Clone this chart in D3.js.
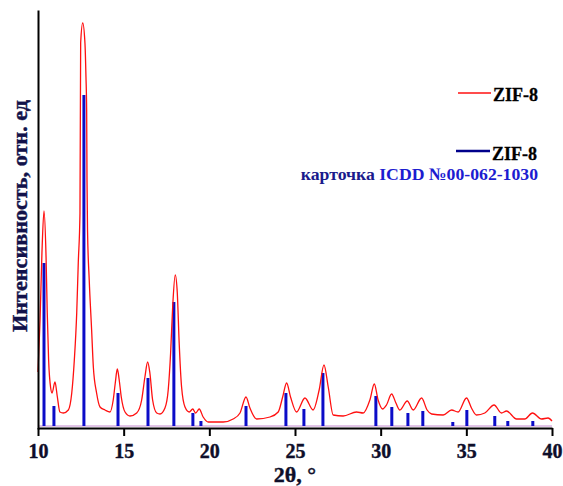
<!DOCTYPE html>
<html>
<head>
<meta charset="utf-8">
<script src="https://cdn.jsdelivr.net/npm/d3@7"></script>
<style>
  html, body { margin: 0; padding: 0; background: #fff; }
  svg { display: block; }
  text { font-family: "Liberation Serif", "Times New Roman", serif; font-weight: bold; }
</style>
</head>
<body>
<svg id="chart" width="563" height="486"></svg>
<script>
// ---- Data ----
// Measured XRD pattern of ZIF-8 (2θ in degrees, intensity in relative units)
const measuredTheta = [10.00,10.12,10.23,10.35,10.47,10.54,10.62,10.74,10.82,10.99,11.13,11.28,11.48,11.77,11.97,12.12,12.26,12.35,12.45,12.49,12.61,12.74,12.80,12.84,12.86,12.89,12.99,13.13,13.23,13.42,13.62,13.91,14.20,14.39,14.51,14.63,14.74,14.86,15.08,15.37,15.76,16.05,16.24,16.40,16.53,16.69,16.93,17.12,17.41,17.60,17.74,17.86,18.01,18.13,18.24,18.38,18.58,18.83,19.03,19.20,19.41,19.64,19.94,20.33,20.81,21.39,21.79,22.14,22.37,22.76,23.54,24.02,24.28,24.51,24.74,25.09,25.58,26.06,26.41,26.69,26.94,27.23,27.81,28.59,28.98,29.37,29.63,29.85,30.11,30.34,30.64,30.89,31.12,31.55,31.90,32.39,32.71,32.97,33.65,34.14,34.52,35.01,35.30,35.59,36.08,36.62,37.05,37.35,37.93,38.41,38.86,39.39,39.77,40.00];
const measuredIntensity = [54,106,173,215,169,113,66,38,33,44,29,14,13,16,33,66,113,163,213,383,403,383,349,316,246,196,146,96,59,33,19,16,14,26,43,57,46,29,14,10,13,26,49,64,53,26,13,12,18,36,73,119,151,133,83,39,19,14,17,13,17,9,4,4,4,7,13,29,18,7,9,14,29,43,29,14,28,16,36,61,39,11,10,14,13,26,42,26,17,21,32,23,16,25,16,28,16,12,11,16,14,28,18,11,13,21,13,15,7,7,13,7,8,5];

// Reference card ICDD №00-062-1030 (stick pattern)
const cardTheta = [10.35,10.93,12.68,14.67,16.42,17.93,19.04,19.51,22.14,24.47,25.52,26.63,29.72,30.65,31.59,32.46,34.21,35.03,36.66,37.42,38.88];
const cardIntensity = [163,20,331,33,48,124,13,5,20,33,17,53,30,19,13,15,4,16,10,5,5];

const xTicks = [10, 15, 20, 25, 30, 35, 40];
const xDomain = [10, 40];
const yDomain = [0, 416];

const xTitle = "2θ, °";
const yTitle = "Интенсивность, отн. ед";
const legendMeasured = "ZIF-8";
const legendCard = "ZIF-8";
const legendCardLine2a = "карточка ";
const legendCardLine2b = "ICDD №00-062-1030";

// ---- Drawing ----
(function () {
const svg = d3.select("#chart");
const mLeft = 38, mRight = 552, mTop = 10, base = 426, axisY = 428;

const x = d3.scaleLinear().domain(xDomain).range([mLeft, mRight]);
const y = d3.scaleLinear().domain(yDomain).range([base, mTop]);

// stick baseline (thin purple)
svg.append("line")
  .attr("x1", x(10)).attr("x2", x(40))
  .attr("y1", y(0)).attr("y2", y(0))
  .attr("stroke", "#c58ad0").attr("stroke-width", 1);

// sticks
svg.append("g").selectAll("line")
  .data(cardTheta.map((t, i) => ({ t, v: cardIntensity[i] })))
  .join("line")
  .attr("x1", d => x(d.t)).attr("x2", d => x(d.t))
  .attr("y1", y(0)).attr("y2", d => y(d.v))
  .attr("stroke", "#0c0cc8").attr("stroke-width", 3);

// measured curve
const pts = measuredTheta.map((t, i) => [t, measuredIntensity[i]]);
svg.append("path")
  .datum(pts)
  .attr("fill", "none")
  .attr("stroke", "#ff1010")
  .attr("stroke-width", 1.3)
  .attr("d", d3.line().x(d => x(d[0])).y(d => y(d[1])).curve(d3.curveMonotoneX));

// x axis
const xAxis = d3.axisBottom(x).tickValues(xTicks).tickFormat(d3.format("d"))
  .tickSize(8).tickSizeOuter(0).tickPadding(8);
const gx = svg.append("g").attr("transform", `translate(0,${axisY})`).call(xAxis);
gx.select(".domain").attr("stroke", "#000").attr("stroke-width", 2);
gx.selectAll(".tick line").attr("stroke", "#000").attr("stroke-width", 2);
gx.selectAll(".tick text")
  .attr("fill", "#0e0e2a")
  .attr("stroke", "#0e0e2a").attr("stroke-width", 0.4)
  .style("font-family", '"Liberation Serif", serif')
  .style("font-weight", "bold")
  .style("font-size", "20px");

// y axis (line only)
const yAxisScale = d3.scaleLinear().domain([0, 1]).range([axisY + 1, mTop]);
const gy = svg.append("g").attr("transform", `translate(${mLeft},0)`)
  .call(d3.axisLeft(yAxisScale).tickValues([]).tickSizeOuter(0));
gy.select(".domain").attr("stroke", "#000").attr("stroke-width", 2);

// axis titles
svg.append("text")
  .attr("x", 295).attr("y", 482)
  .attr("text-anchor", "middle")
  .attr("fill", "#0e0e2a")
  .attr("stroke", "#0e0e2a").attr("stroke-width", 0.4)
  .style("font-size", "22px")
  .text(xTitle);

svg.append("text")
  .attr("transform", "translate(27,216) rotate(-90)")
  .attr("text-anchor", "middle")
  .attr("fill", "#12124a")
  .attr("stroke", "#12124a").attr("stroke-width", 0.4)
  .attr("textLength", 232).attr("lengthAdjust", "spacingAndGlyphs")
  .style("font-size", "20.5px")
  .text(yTitle);

// legend
svg.append("line").attr("x1", 458).attr("x2", 491).attr("y1", 93).attr("y2", 93)
  .attr("stroke", "#ff1010").attr("stroke-width", 1.3);
svg.append("text").attr("x", 493).attr("y", 101).attr("fill", "#000")
  .attr("stroke", "#000").attr("stroke-width", 0.3)
  .style("font-size", "18px").text(legendMeasured);

svg.append("line").attr("x1", 456).attr("x2", 490).attr("y1", 151).attr("y2", 151)
  .attr("stroke", "#00008b").attr("stroke-width", 2.5);
svg.append("text").attr("x", 492).attr("y", 160).attr("fill", "#000")
  .attr("stroke", "#000").attr("stroke-width", 0.3)
  .style("font-size", "18px").text(legendCard);

const t3 = svg.append("text").attr("x", 538).attr("y", 180)
  .attr("text-anchor", "end")
  .style("font-size", "17.7px");
t3.append("tspan").attr("fill", "#1a1a8c").text(legendCardLine2a);
t3.append("tspan").attr("fill", "#1c1cd0").text(legendCardLine2b);
})();
</script>
</body>
</html>
